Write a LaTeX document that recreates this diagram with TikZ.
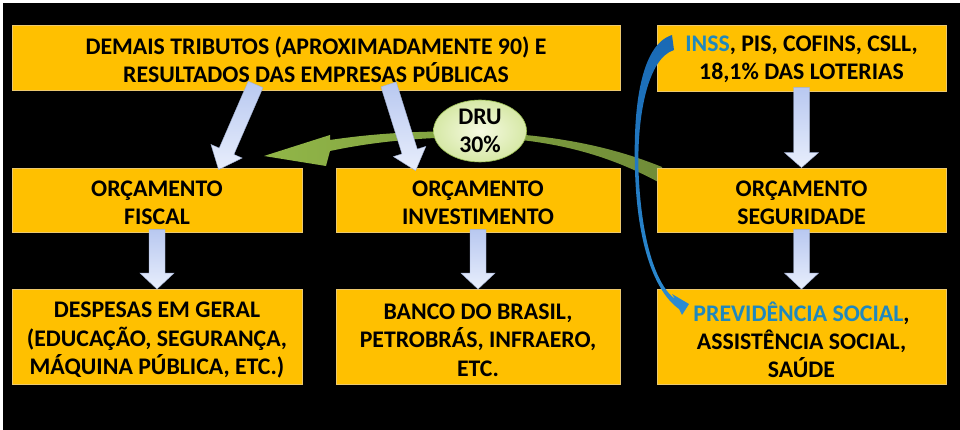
\documentclass[tikz,border=0pt]{standalone}
\usepackage{fontspec}
\setmainfont{Carlito}
\usetikzlibrary{calc,shapes.geometric}
\definecolor{boxy}{RGB}{255,192,0}
\definecolor{boxedge}{RGB}{236,200,110}
\definecolor{blutx}{RGB}{31,136,190}
\definecolor{arrtop}{RGB}{184,200,240}
\definecolor{arrbot}{RGB}{232,238,252}
\definecolor{arredge}{RGB}{160,175,210}
\definecolor{grnL}{RGB}{145,182,72}
\definecolor{grnR}{RGB}{112,140,56}
\definecolor{druin}{RGB}{246,250,226}
\definecolor{druout}{RGB}{214,232,166}
\definecolor{druedge}{RGB}{150,185,80}
\definecolor{bluT}{RGB}{25,105,180}
\definecolor{bluB}{RGB}{45,140,210}
\newcommand\blockarr[3]{%
  \coordinate (hh) at ($(#2)!#3!(#1)$);
  \shade[top color=arrtop, bottom color=arrbot, draw=arredge, line width=0.4pt]
    ($(#1)!8pt!90:(#2)$) -- ($(hh)!8pt!-90:(#1)$) -- ($(hh)!17pt!-90:(#1)$) -- (#2)
    -- ($(hh)!17pt!90:(#1)$) -- ($(hh)!8pt!90:(#1)$) -- ($(#1)!8pt!-90:(#2)$) -- cycle;
}
\begin{document}
\begin{tikzpicture}[x=1pt,y=-1pt,
  box/.style={fill=boxy, draw=boxedge, line width=0.8pt, inner sep=0pt},
  lbl/.style={inner sep=0pt, align=center,
    font=\fontsize{23.8}{28.3}\selectfont\bfseries, text=black},
  dru/.style={ellipse, inner color=druin, outer color=druout, draw=druedge, line width=0.6pt,
    minimum width=93pt, minimum height=62pt, inner sep=0pt, align=center,
    font=\fontsize{23.8}{28}\selectfont\bfseries, text=black}]
\useasboundingbox[fill=white] (0,0) rectangle (960,430);
\fill[black] (3,3) rectangle (960,430);

% green DRU arrow (behind)
\shade[left color=grnL, right color=grnR]
  (662,167) .. controls (615,148) and (560,135) .. (480,132)
  .. controls (420,130) and (370,134) .. (330,140)
  -- (330,135) -- (264,156) -- (326,166) -- (330,151)
  .. controls (372,142) and (420,137) .. (480,137)
  .. controls (565,140) and (618,160) .. (662,184) -- cycle;

% boxes
\node[box, minimum width=608pt, minimum height=65pt] (top) at (316,57.5) {};
\node[box, minimum width=289pt, minimum height=66pt] (src) at (801.5,58) {};
\node[box, minimum width=290pt, minimum height=64pt] (fiscal) at (157,200) {};
\node[box, minimum width=284pt, minimum height=64pt] (invest) at (478,200) {};
\node[box, minimum width=289pt, minimum height=64pt] (segur) at (801.5,200) {};
\node[box, minimum width=290pt, minimum height=95pt] (desp) at (157,337) {};
\node[box, minimum width=284pt, minimum height=95pt] (banco) at (478,337) {};
\node[box, minimum width=289pt, minimum height=95pt] (prev) at (801.5,337) {};

% box texts
\node[lbl] (topT) at ($(top.center)+(0,2)$)
  {DEMAIS TRIBUTOS (APROXIMADAMENTE 90) E\\RESULTADOS DAS EMPRESAS PÚBLICAS};
\node[lbl] (srcT) at ($(src.center)+(0,1.5)$)
  {\textcolor{blutx}{INSS}, PIS, COFINS, CSLL,\\18,1\% DAS LOTERIAS};
\node[lbl] (fiscalT) at ($(fiscal.center)+(0,3)$) {ORÇAMENTO\\FISCAL};
\node[lbl] (investT) at ($(invest.center)+(0,3)$) {ORÇAMENTO\\INVESTIMENTO};
\node[lbl] (segurT) at ($(segur.center)+(0,3)$) {ORÇAMENTO\\SEGURIDADE};
\node[lbl] (despT) at ($(desp.center)+(0,3)$)
  {DESPESAS EM GERAL\\(EDUCAÇÃO, SEGURANÇA,\\MÁQUINA PÚBLICA, ETC.)};
\node[lbl] (bancoT) at ($(banco.center)+(0,3)$)
  {BANCO DO BRASIL,\\PETROBRÁS, INFRAERO,\\ETC.};
\node[lbl] (prevT) at ($(prev.center)+(0,3)$)
  {\textcolor{blutx}{PREVIDÊNCIA SOCIAL},\\ASSISTÊNCIA SOCIAL,\\SAÚDE};

% DRU ellipse
\node[dru] (druN) at (480,131) {DRU\\30\%};

% block arrows
\coordinate (d1s) at ($(top.south west)+(244,-6)$);
\coordinate (d1e) at ($(fiscal.north west)+(207,2)$);
\coordinate (d2s) at ($(top.south west)+(377,-6)$);
\coordinate (d2e) at ($(invest.north west)+(80,3)$);
\blockarr{d1s}{d1e}{20pt}
\blockarr{d2s}{d2e}{20pt}
\coordinate (v1s) at ($(src.south)+(0,-4)$);
\blockarr{v1s}{segur.north}{15pt}
\coordinate (v2s) at ($(segur.south)+(0,-3)$);
\blockarr{v2s}{prev.north}{16pt}
\coordinate (v3s) at ($(fiscal.south)+(0,-3)$);
\blockarr{v3s}{desp.north}{16pt}
\coordinate (v4s) at ($(invest.south)+(0,-3)$);
\blockarr{v4s}{banco.north}{16pt}

% blue curved arrow INSS -> Previdencia
\shade[top color=bluT, bottom color=bluB]
  (672,35) .. controls (640,45) and (633,110) .. (635,170)
  .. controls (637,245) and (655,292) .. (679,309)
  -- (682,315) -- (689,304) -- (672,294) -- (675,299)
  .. controls (656,285) and (641,240) .. (638.5,170)
  .. controls (637,115) and (648,58) .. (674,50) -- cycle;
\end{tikzpicture}
\end{document}
